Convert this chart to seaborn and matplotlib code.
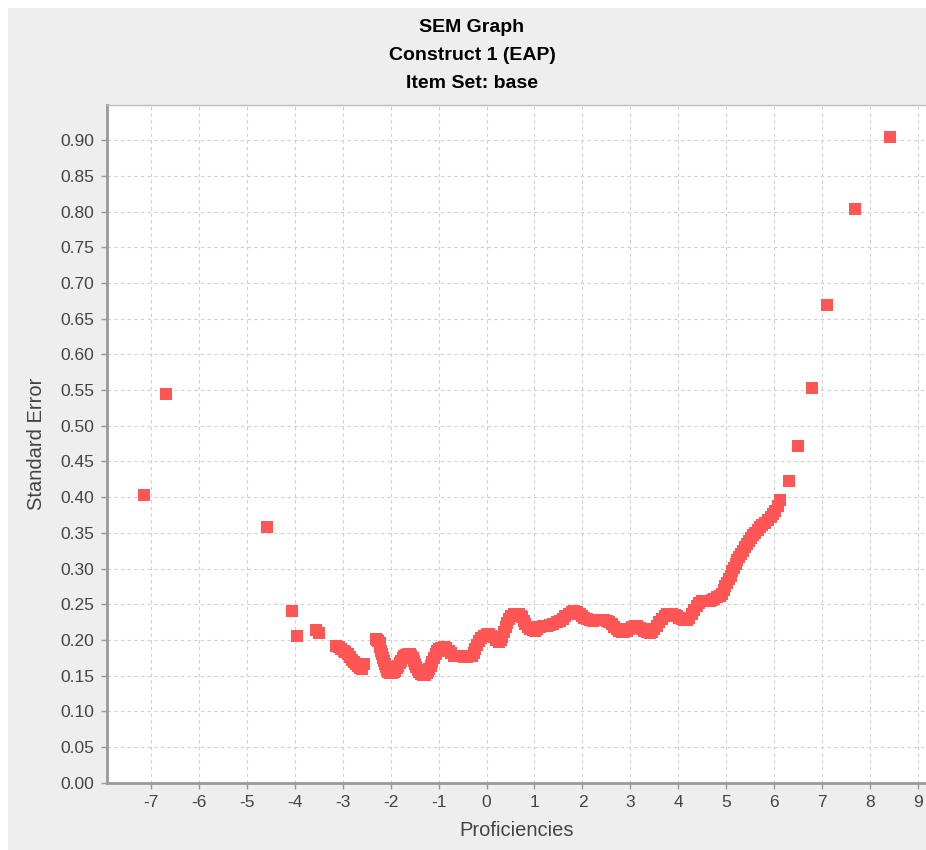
import matplotlib
matplotlib.use("Agg")
import matplotlib.pyplot as plt
from matplotlib.patches import Rectangle
import pandas as pd
import seaborn as sns

# Standard error of measurement across the proficiency scale
proficiency = [
    -7.14, -6.67, -4.58, -4.06, -3.96, -3.56, -3.49,
    -3.13, -3.08, -3.03, -2.98, -2.94, -2.89, -2.85, -2.81, -2.77, -2.72,
    -2.68, -2.63, -2.59, -2.56,
    -2.31, -2.28, -2.26, -2.23, -2.21, -2.19, -2.17, -2.15, -2.14, -2.12,
    -2.10, -2.08, -2.06, -2.02, -1.97, -1.93, -1.90, -1.87, -1.84, -1.81,
    -1.78, -1.74, -1.71, -1.67, -1.64, -1.60, -1.57, -1.54, -1.51, -1.48,
    -1.46, -1.43, -1.40, -1.36, -1.32, -1.28, -1.24, -1.22, -1.20, -1.16,
    -1.13, -1.10, -1.06, -1.03, -0.99, -0.94, -0.89, -0.84, -0.79, -0.74,
    -0.68, -0.61, -0.54, -0.47, -0.40, -0.35, -0.30, -0.26, -0.23, -0.20,
    -0.16, -0.11, -0.06, 0.00, 0.05, 0.10, 0.15, 0.20, 0.26, 0.30,
    0.33, 0.37, 0.40, 0.43, 0.46, 0.51, 0.57, 0.62, 0.67, 0.71,
    0.74, 0.78, 0.81, 0.86, 0.91, 0.96, 1.01, 1.06, 1.11, 1.18,
    1.26, 1.32, 1.39, 1.46, 1.53, 1.59, 1.64, 1.71, 1.78, 1.83,
    1.88, 1.94, 1.99, 2.04, 2.09, 2.16, 2.23, 2.30, 2.36, 2.44,
    2.51, 2.56, 2.61, 2.66, 2.71, 2.77, 2.82, 2.87, 2.92, 2.98,
    3.03, 3.09, 3.14, 3.19, 3.24, 3.29, 3.34, 3.40, 3.45, 3.50,
    3.55, 3.60, 3.66, 3.71, 3.76, 3.81, 3.86, 3.92, 3.97, 4.02,
    4.07, 4.12, 4.18, 4.23, 4.28, 4.33, 4.38, 4.43, 4.49, 4.54,
    4.59, 4.65, 4.70, 4.75, 4.80, 4.86, 4.91, 4.95, 4.98, 5.02,
    5.05, 5.09, 5.12, 5.16, 5.19, 5.23, 5.27, 5.31, 5.35, 5.39,
    5.43, 5.47, 5.51, 5.56, 5.60, 5.65, 5.70, 5.75, 5.80, 5.86,
    5.92, 5.97, 6.02, 6.07, 6.12,
    6.30, 6.50, 6.79, 7.10, 7.67, 8.40,
]
std_error = [
    0.403, 0.544, 0.358, 0.240, 0.205, 0.214, 0.209,
    0.192, 0.190, 0.187, 0.185, 0.183, 0.180, 0.176, 0.172, 0.169, 0.166,
    0.164, 0.161, 0.159, 0.166,
    0.201, 0.200, 0.199, 0.195, 0.190, 0.185, 0.180, 0.175, 0.171, 0.166,
    0.162, 0.158, 0.155, 0.153, 0.153, 0.155, 0.157, 0.160, 0.164, 0.168,
    0.171, 0.175, 0.178, 0.179, 0.180, 0.180, 0.178, 0.175, 0.171, 0.166,
    0.162, 0.158, 0.155, 0.152, 0.151, 0.151, 0.153, 0.156, 0.159, 0.164,
    0.169, 0.175, 0.180, 0.184, 0.187, 0.189, 0.190, 0.188, 0.185, 0.181,
    0.178, 0.177, 0.177, 0.176, 0.176, 0.177, 0.178, 0.182, 0.187, 0.193,
    0.199, 0.203, 0.206, 0.208, 0.208, 0.206, 0.204, 0.200, 0.197, 0.200,
    0.204, 0.211, 0.218, 0.224, 0.229, 0.233, 0.236, 0.237, 0.236, 0.234,
    0.232, 0.227, 0.222, 0.218, 0.215, 0.214, 0.213, 0.215, 0.218, 0.219,
    0.220, 0.221, 0.223, 0.225, 0.227, 0.230, 0.234, 0.237, 0.239, 0.240,
    0.239, 0.237, 0.234, 0.231, 0.229, 0.228, 0.227, 0.228, 0.228, 0.228,
    0.227, 0.225, 0.222, 0.218, 0.215, 0.212, 0.211, 0.211, 0.212, 0.215,
    0.218, 0.219, 0.219, 0.217, 0.215, 0.212, 0.211, 0.210, 0.211, 0.215,
    0.220, 0.225, 0.230, 0.233, 0.236, 0.237, 0.236, 0.235, 0.234, 0.231,
    0.229, 0.228, 0.228, 0.231, 0.236, 0.242, 0.248, 0.252, 0.254, 0.254,
    0.254, 0.255, 0.256, 0.258, 0.260, 0.262, 0.265, 0.270, 0.275, 0.280,
    0.285, 0.290, 0.296, 0.301, 0.307, 0.312, 0.316, 0.321, 0.325, 0.330,
    0.334, 0.339, 0.343, 0.347, 0.350, 0.354, 0.358, 0.361, 0.364, 0.368,
    0.372, 0.376, 0.381, 0.388, 0.396,
    0.422, 0.471, 0.553, 0.669, 0.803, 0.904,
]

x_ticks = list(range(-7, 10))
y_ticks = [round(0.05 * i, 2) for i in range(19)]

title_lines = ["SEM Graph", "Construct 1 (EAP)", "Item Set: base"]

df = pd.DataFrame({"Proficiencies": proficiency, "Standard Error": std_error})

sns.set_style("white")
plt.rcParams["font.family"] = ["Liberation Sans", "DejaVu Sans"]

fig = plt.figure(figsize=(9.26, 8.5), dpi=100, facecolor="white")
fig.add_artist(Rectangle((8 / 926, 0), 1, 1 - 8 / 850, transform=fig.transFigure,
                         facecolor="#eeeeee", edgecolor="none", zorder=-10))

ax = fig.add_axes([106.5 / 926, 67.3 / 850, 1 - 106.5 / 926, (782.7 - 104.5) / 850])
ax.set_facecolor("white")

sns.scatterplot(data=df, x="Proficiencies", y="Standard Error", ax=ax,
                marker="s", s=64, color="#ff5555", linewidth=0, zorder=3)

ax.set_xlim(-7.92, 9.16)
ax.set_ylim(0, 0.950)
ax.set_xticks(x_ticks)
ax.set_xticklabels([str(v) for v in x_ticks])
ax.set_yticks(y_ticks)
ax.set_yticklabels([f"{v:.2f}" for v in y_ticks])

ax.grid(True, color="#d0d0d0", linestyle=(0, (3, 3)), linewidth=0.8)
ax.set_axisbelow(True)

for side in ("left", "bottom"):
    ax.spines[side].set_color("#999999")
    ax.spines[side].set_linewidth(2)
ax.spines["top"].set_color("#bbbbbb")
ax.spines["top"].set_linewidth(1)
ax.spines["right"].set_visible(False)

ax.tick_params(axis="both", direction="out", length=4, width=1, color="#999999",
               labelsize=12.5, labelcolor="#444444", pad=5)
ax.tick_params(axis="x", bottom=True)
ax.tick_params(axis="y", left=True)

ax.set_xlabel("Proficiencies", fontsize=14.5, color="#444444", labelpad=8)
ax.set_ylabel("Standard Error", fontsize=14.5, color="#444444", labelpad=10)

for i, line in enumerate(title_lines):
    fig.text(472 / 926, 1 - (27 + 28 * i) / 850, line, ha="center", va="center",
             fontsize=14, fontweight="bold", color="black")

fig.savefig("out.png", dpi=100, facecolor=fig.get_facecolor())
